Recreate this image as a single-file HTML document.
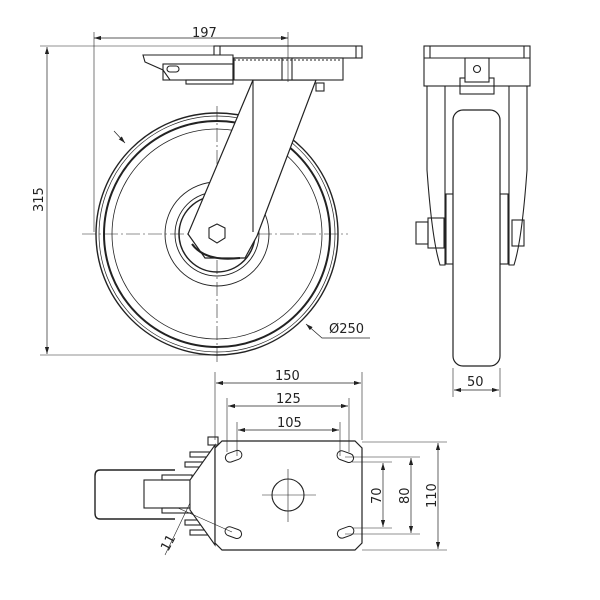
<!DOCTYPE html>
<html><head><meta charset="utf-8"><style>html,body{margin:0;padding:0;background:#fff}svg{display:block}text{font-family:"DejaVu Sans","Liberation Sans",sans-serif;font-size:13px;fill:#222}</style></head>
<body>
<svg width="600" height="600" viewBox="0 0 600 600" xmlns="http://www.w3.org/2000/svg">
<defs>
<marker id="a" viewBox="0 0 10 6" refX="10" refY="3" markerWidth="10" markerHeight="6" orient="auto-start-reverse"><path d="M0,0 L10,3 L0,6 z" fill="#222"/></marker>
</defs>
<g fill="none" stroke="#222" stroke-width="1.1">
<!-- ===== SIDE VIEW ===== -->
<line x1="82" y1="234" x2="348" y2="234" stroke-width="0.6" stroke-dasharray="14,3,2,3"/>
<line x1="217" y1="106" x2="217" y2="365" stroke-width="0.6" stroke-dasharray="14,3,2,3"/>
<circle cx="217" cy="234" r="121" stroke-width="1.4"/>
<circle cx="217" cy="234" r="118" stroke-width="0.7"/>
<circle cx="217" cy="234" r="113" stroke-width="2"/>
<circle cx="217" cy="234" r="105" stroke-width="0.8"/>
<circle cx="217" cy="234" r="52" stroke-width="0.9"/>
<circle cx="217" cy="234" r="42" stroke-width="0.9"/>
<circle cx="217" cy="234" r="38" stroke-width="1.5"/>
<polygon points="253,80 316,80 257,236 245,258 205,258 188,234" fill="#fff" stroke-width="1.2"/>
<line x1="253" y1="80" x2="253" y2="232"/>
<path d="M192,244 Q205,262 240,258" stroke-width="2"/>
<polygon points="217,224 225,228 225,238 217,243 209,238 209,228" fill="#fff"/>
<rect x="214" y="46" width="148" height="12" fill="#fff"/>
<line x1="220" y1="46" x2="220" y2="58"/><line x1="356" y1="46" x2="356" y2="58"/>
<rect x="234" y="58" width="109" height="22" fill="#fff"/>
<line x1="234" y1="60" x2="342" y2="60" stroke-dasharray="2,2"/>
<line x1="282" y1="58" x2="282" y2="80"/><line x1="292" y1="58" x2="292" y2="80"/>
<path d="M143,55 L233,55 L233,80 L170,80 L163,70 L145,62 Z" fill="#fff"/>
<rect x="186" y="80" width="47" height="4"/>
<rect x="163" y="64" width="70" height="16"/>
<rect x="167" y="66" width="12" height="6" rx="3"/>
<rect x="316" y="83" width="8" height="8"/>
<line x1="94" y1="38" x2="288" y2="38" marker-start="url(#a)" marker-end="url(#a)" stroke-width="0.7"/>
<line x1="94" y1="32" x2="94" y2="232" stroke-width="0.6"/>
<line x1="288" y1="32" x2="288" y2="82" stroke-width="0.6"/>
<line x1="40" y1="46" x2="214" y2="46" stroke-width="0.6"/>
<line x1="40" y1="355" x2="217" y2="355" stroke-width="0.6"/>
<line x1="47" y1="47" x2="47" y2="354" marker-start="url(#a)" marker-end="url(#a)" stroke-width="0.7"/>
<line x1="114" y1="131" x2="125" y2="143" marker-end="url(#a)" stroke-width="0.7"/>
<polyline points="370,338 322,338 306,324" stroke-width="0.7" marker-end="url(#a)"/>

<!-- ===== FRONT VIEW ===== -->
<rect x="424" y="46" width="106" height="40" fill="#fff"/>
<line x1="424" y1="58" x2="530" y2="58"/>
<line x1="430" y1="46" x2="430" y2="58"/><line x1="524" y1="46" x2="524" y2="58"/>
<rect x="460" y="78" width="34" height="16"/>
<rect x="465" y="58" width="24" height="24" fill="#fff"/>
<circle cx="477" cy="69" r="3.5"/>
<path d="M427,86 L427,170 Q432,240 440,265 L445,265 L445,86"/>
<path d="M527,86 L527,170 Q522,240 514,265 L509,265 L509,86"/>
<rect x="446" y="194" width="8" height="70"/>
<rect x="500" y="194" width="8" height="70"/>
<rect x="453" y="110" width="47" height="256" rx="10" fill="#fff" stroke-width="1.2"/>
<rect x="416" y="222" width="12" height="22"/>
<rect x="428" y="218" width="16" height="30"/>
<rect x="512" y="220" width="12" height="26"/>
<line x1="453" y1="368" x2="453" y2="397" stroke-width="0.6"/>
<line x1="500" y1="368" x2="500" y2="397" stroke-width="0.6"/>
<line x1="454" y1="390" x2="499" y2="390" marker-start="url(#a)" marker-end="url(#a)" stroke-width="0.7"/>

<!-- ===== BOTTOM VIEW ===== -->
<path d="M175,470 L100,470 Q95,470 95,476 L95,513 Q95,519 100,519 L175,519" stroke-width="1.4"/>
<rect x="144" y="480" width="46" height="28"/>
<rect x="162" y="475" width="30" height="5"/><rect x="162" y="508" width="30" height="5"/>
<rect x="185" y="462" width="30" height="5"/><rect x="185" y="520" width="30" height="5"/>
<rect x="190" y="452" width="25" height="5"/><rect x="190" y="530" width="25" height="5"/>
<rect x="195" y="485" width="20" height="18"/>
<rect x="208" y="437" width="10" height="8"/>
<polygon points="215,445 215,545 190,510 190,480" fill="#fff"/>
<polygon points="222,441 355,441 362,448 362,543 355,550 222,550 215,543 215,448" fill="#fff" stroke-width="1.2"/>
<circle cx="288" cy="495" r="16"/>
<line x1="262" y1="495" x2="316" y2="495" stroke-width="0.6"/>
<line x1="288" y1="469" x2="288" y2="522" stroke-width="0.6"/>
<g stroke-width="1">
<rect x="225" y="452" width="17" height="9" rx="4.5" transform="rotate(-20 233 456)"/>
<rect x="337" y="452" width="17" height="9" rx="4.5" transform="rotate(20 345 456)"/>
<rect x="225" y="528" width="17" height="9" rx="4.5" transform="rotate(20 233 532)"/>
<rect x="337" y="528" width="17" height="9" rx="4.5" transform="rotate(-20 345 532)"/>
</g>
<line x1="178" y1="508" x2="232" y2="532" stroke-width="0.6"/>
<line x1="165" y1="555" x2="190" y2="503" stroke-width="0.6"/>
<line x1="215" y1="372" x2="215" y2="440" stroke-width="0.6"/>
<line x1="362" y1="372" x2="362" y2="440" stroke-width="0.6"/>
<line x1="216" y1="383" x2="361" y2="383" marker-start="url(#a)" marker-end="url(#a)" stroke-width="0.7"/>
<line x1="227" y1="398" x2="227" y2="452" stroke-width="0.6"/>
<line x1="349" y1="398" x2="349" y2="452" stroke-width="0.6"/>
<line x1="228" y1="406" x2="348" y2="406" marker-start="url(#a)" marker-end="url(#a)" stroke-width="0.7"/>
<line x1="237" y1="422" x2="237" y2="456" stroke-width="0.6"/>
<line x1="340" y1="422" x2="340" y2="456" stroke-width="0.6"/>
<line x1="238" y1="430" x2="339" y2="430" marker-start="url(#a)" marker-end="url(#a)" stroke-width="0.7"/>
<line x1="352" y1="462" x2="392" y2="462" stroke-width="0.6"/>
<line x1="352" y1="528" x2="392" y2="528" stroke-width="0.6"/>
<line x1="383" y1="463" x2="383" y2="527" marker-start="url(#a)" marker-end="url(#a)" stroke-width="0.7"/>
<line x1="345" y1="457" x2="420" y2="457" stroke-width="0.6"/>
<line x1="345" y1="534" x2="420" y2="534" stroke-width="0.6"/>
<line x1="411" y1="458" x2="411" y2="533" marker-start="url(#a)" marker-end="url(#a)" stroke-width="0.7"/>
<line x1="362" y1="442" x2="447" y2="442" stroke-width="0.6"/>
<line x1="362" y1="550" x2="447" y2="550" stroke-width="0.6"/>
<line x1="438" y1="443" x2="438" y2="549" marker-start="url(#a)" marker-end="url(#a)" stroke-width="0.7"/>
</g>
<text x="192" y="37">197</text>
<text x="0" y="0" transform="translate(43,212) rotate(-90)">315</text>
<text x="329" y="333">Ø250</text>
<text x="467" y="386">50</text>
<text x="275" y="380">150</text>
<text x="276" y="403">125</text>
<text x="277" y="427">105</text>
<text transform="translate(381,504) rotate(-90)">70</text>
<text transform="translate(409,504) rotate(-90)">80</text>
<text transform="translate(436,508) rotate(-90)">110</text>
<text transform="translate(168,552) rotate(-62)">11</text>
</svg>
</body></html>
